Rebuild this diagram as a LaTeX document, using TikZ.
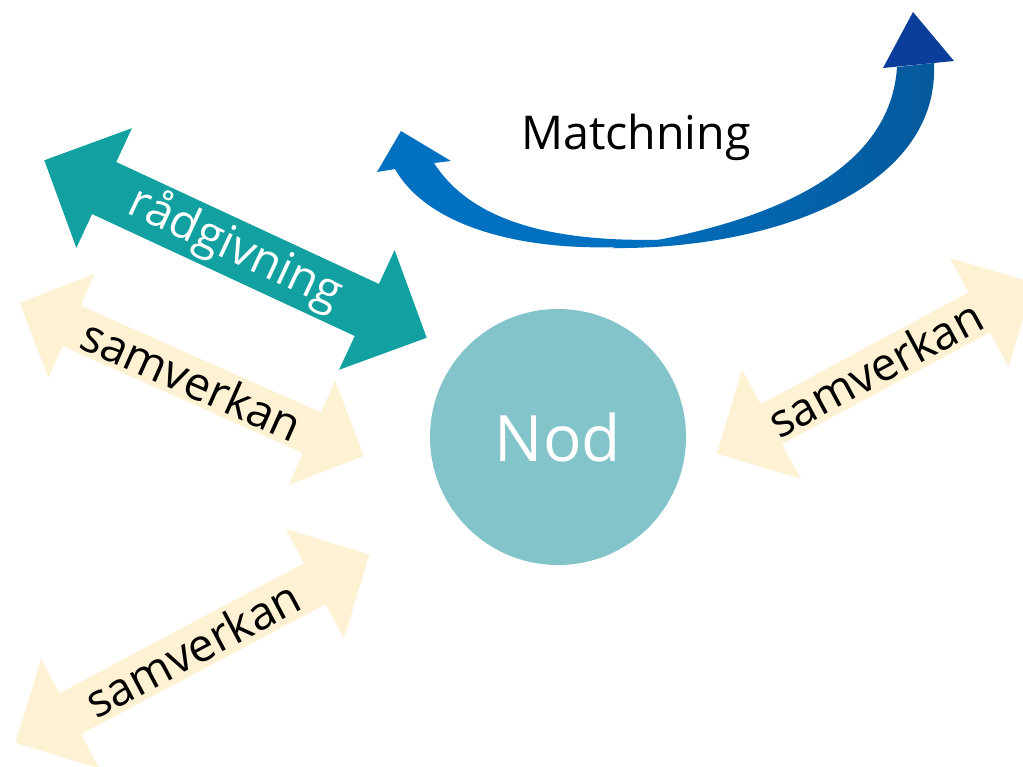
\documentclass[tikz,border=0pt]{standalone}
\usepackage{fontspec}
\setmainfont{Open Sans}
\usepackage{tikz}
\usetikzlibrary{shapes,shapes.misc}
\definecolor{nodfill}{HTML}{82C4C9}
\definecolor{radfill}{HTML}{12A0A0}
\definecolor{samfill}{HTML}{FFF2D4}
\definecolor{matchlight}{HTML}{0070C0}
\definecolor{matchmid}{HTML}{05599B}
\definecolor{matchdark}{HTML}{0B3D9A}

\begin{document}
\begin{tikzpicture}[x=1pt,y=-1pt,
  every node/.append style={inner sep=0pt,outer sep=0pt},
  twoway/.style={double arrow,double arrow tip angle=90,font=\fontsize{46}{50}\selectfont},
  every circle node/.append style={fill=nodfill,text=white}]
  \tikzstyle{samarrow} = [twoway,fill=samfill,text=black]
  \tikzstyle{word} = [font=\fontsize{46.6}{52}\selectfont,color=black]
  \useasboundingbox (0,0) rectangle (1023,766);
  \clip (0,0) rectangle (1023,766);
  \node (nod) [circle,minimum size=256pt,font=\fontsize{64}{70}\selectfont] at (558,437) {Nod};
  \node (rad) [twoway,fill=radfill,text=white,rotate=-24.9,minimum height=421.6pt,minimum width=132pt,
    double arrow head extend=32.5pt,font=\fontsize{47}{52}\selectfont] at (235.5,249) {rådgivning};
  \node (sam_1) [samarrow,rotate=-24,minimum height=377pt,minimum width=114pt,
    double arrow head extend=28pt] at (191.8,379.3) {samverkan};
  \node (sam_2) [samarrow,rotate=28,minimum height=401pt,minimum width=124pt,
    double arrow head extend=30pt] at (192.5,648.7) {samverkan};
  \node (sam_3) [samarrow,rotate=28.3,minimum height=360pt,minimum width=124pt,
    double arrow head extend=31pt] at (875.3,368.3) {samverkan};
  \node (match) [word,anchor=base] at (636,149) {Matchning};
  \shade[left color=matchlight,right color=matchmid] (610,248) .. controls (770,250) and (940,190) .. (934,63)
    -- (897,67) .. controls (890,180) and (750,228) .. (610,248) -- cycle;
  \fill[matchdark] (883,68) -- (913,12) -- (954,61) -- cycle;
  \fill[matchlight] (700,238) .. controls (590,245) and (480,235) .. (434,163) -- (451,161) -- (401,131)
    -- (377,172) -- (395,169) .. controls (435,240) and (570,262) .. (700,238) -- cycle;
\end{tikzpicture}
\end{document}
